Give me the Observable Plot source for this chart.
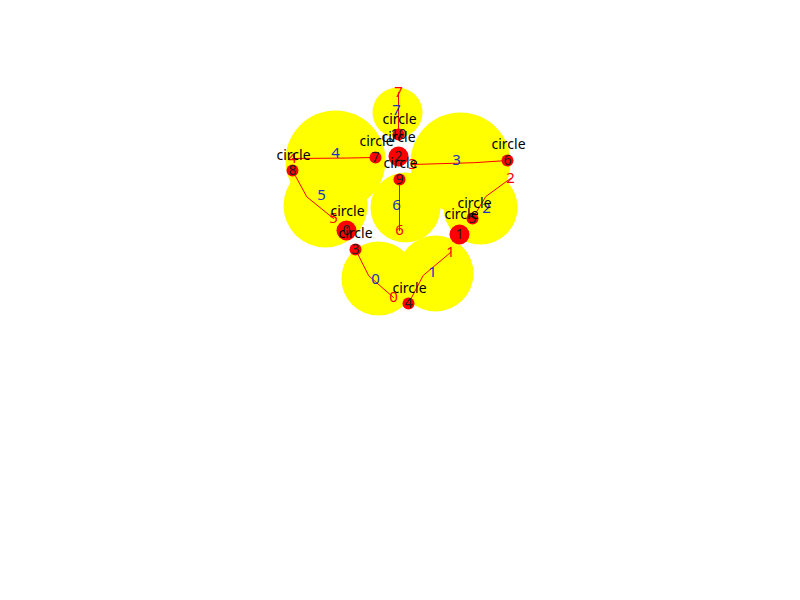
<!DOCTYPE html>
<html>
<head>
<meta charset="utf-8">
<script src="https://cdn.jsdelivr.net/npm/d3@7"></script>
<script src="https://cdn.jsdelivr.net/npm/@observablehq/plot@0.6"></script>
<style>body{margin:0;background:#fff;font-family:Roboto,sans-serif}</style>
</head>
<body>
<div id="chart"></div>
<script>
// yellow bubbles
const bubbleX = [397, 335, 460, 325, 405, 480, 378, 435]
const bubbleY = [112, 160, 162, 205, 207, 207, 278, 273]
const bubbleR = [25, 50, 50, 42, 35, 37, 37, 38]

// red nodes
const nodeX = [346, 459, 398, 355, 408, 472, 507, 375, 292, 399, 398]
const nodeY = [230, 234, 156, 249, 303, 218, 160, 157, 170, 179, 134]
const nodeR = [10, 10, 10, 6, 6, 6, 6, 6, 6, 6, 6]

// "circle" labels
const tagX = [399, 376, 293, 347, 355, 409, 474, 461, 508, 400, 398]
const tagY = [119, 141, 155, 211, 233, 288, 203, 214, 144, 163, 137]

// links: start, end, mid label
const linkX1 = [355, 408, 472, 507, 375, 292, 399, 398]
const linkY1 = [249, 303, 218, 160, 157, 170, 179, 134]
const linkX2 = [393, 450, 510, 412, 292, 333, 399, 398]
const linkY2 = [297, 252, 178, 164, 158, 218, 230, 92]
const midX = [375, 432, 486, 456, 335, 321, 396, 396]
const midY = [279, 272, 208, 160, 153, 195, 205, 110]

const idx = d3.range(8)
const nodes = d3.range(nodeX.length)
const links = idx.map(i => [
  {i, x: linkX1[i], y: linkY1[i]},
  {i, x: linkX1[i] + (linkX2[i] - linkX1[i]) * 0.35, y: linkY1[i] + (linkY2[i] - linkY1[i]) * 0.55},
  {i, x: linkX2[i], y: linkY2[i]}
]).flat()

const chart = Plot.plot({
  width: 800, height: 600,
  margin: 0,
  x: {domain: [0, 800], range: [0, 800], axis: null},
  y: {domain: [0, 600], range: [0, 600], axis: null},
  r: {type: "identity"},
  marks: [
    Plot.dot(idx, {x: i => bubbleX[i], y: i => bubbleY[i], r: i => bubbleR[i], fill: "yellow"}),
    Plot.line(links, {x: "x", y: "y", z: "i", stroke: "red", strokeWidth: 1}),
    Plot.text(idx, {x: i => midX[i], y: i => midY[i], text: i => String(i), fill: "#2233bb", fontSize: 15}),
    Plot.text(idx, {x: i => linkX2[i], y: i => linkY2[i], text: i => String(i), fill: "red", fontSize: 15}),
    Plot.dot(nodes, {x: i => nodeX[i], y: i => nodeY[i], r: i => nodeR[i], fill: "red"}),
    Plot.text(nodes, {x: i => nodeX[i], y: i => nodeY[i], text: i => String(i), fill: "#222", fontSize: 14}),
    Plot.text(nodes, {x: i => tagX[i], y: i => tagY[i], text: () => "circle", fill: "black", fontSize: 14})
  ]
})
d3.select('#chart').append(() => chart)
</script>
</body>
</html>
